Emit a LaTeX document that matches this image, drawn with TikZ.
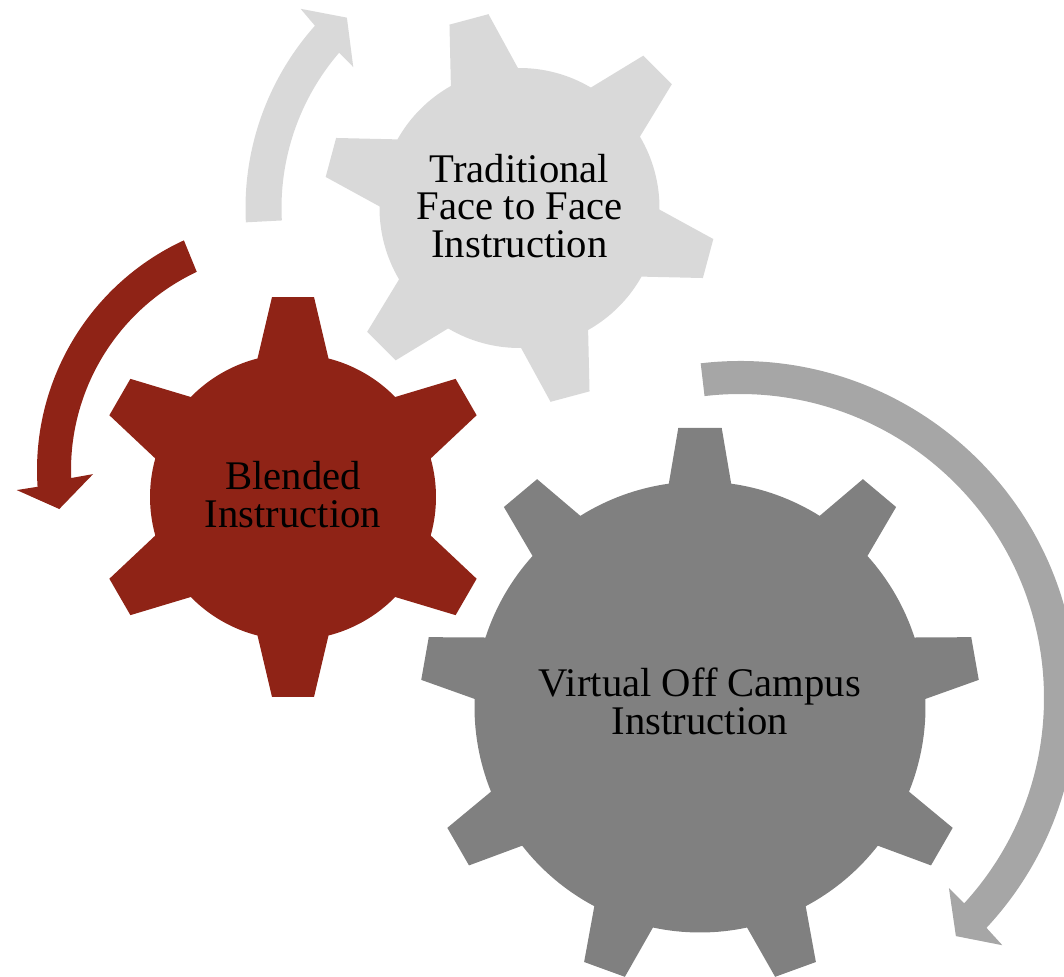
\documentclass[tikz,border=0pt]{standalone}
\usepackage{fontspec}
\setmainfont{Liberation Serif}

\definecolor{gearLight}{RGB}{217,217,217}
\definecolor{gearRed}{RGB}{143,35,22}
\definecolor{gearGray}{RGB}{128,128,128}
\definecolor{arrowGray}{RGB}{166,166,166}

\tikzset{every picture/.style={line width=0.75pt}}
\tikzset{gear label/.style={align=center,text=black,font=\fontsize{30.5}{28.4}\selectfont}}

\begin{document}
\begin{tikzpicture}[x=0.75pt,y=0.75pt,yscale=-1,xscale=1]
%set diagram left start at 0, and has height of 977
\clip (0,0) rectangle (1064,977);

%Shape: Circular Arrow [light]
\fill[gearLight, shift={(519.5,208)}] (-183:274) arc[start angle=-183, end angle=-138.3, radius=274] -- (-137.7:296) -- (-132.2:257) -- (-139.7:218) -- (-139.3:238) arc[start angle=-139.3, end angle=-183, radius=238] -- cycle ;
%Shape: Circular Arrow [red]
\fill[gearRed, shift={(290,470)}] (-114.8:253) arc[start angle=-114.8, end angle=-183.8, radius=253] -- (-184.2:274) -- (-189.6:234) -- (-181.2:197) -- (-182.1:219) arc[start angle=-182.1, end angle=-115.2, radius=219] -- cycle ;
%Shape: Circular Arrow [gray]
\fill[arrowGray, shift={(740,698)}] (-96.7:337) arc[start angle=-96.7, end angle=43, radius=337] -- (43.3:360.5) -- (47.8:321.4) -- (42.3:282.5) -- (42.5:304) arc[start angle=42.5, end angle=-96.7, radius=304] -- cycle ;

%Shape: Gear [light, 6 teeth]
\fill[gearLight, shift={(519.5,208)}] (-119.35:140) \foreach \a in {-105,-45,...,195} { -- (\a-5.9:196.3) -- (\a+5.9:196.3) -- (\a+14.35:140) arc[start angle=\a+14.35, end angle=\a+45.65, radius=140] } -- cycle ;
%Shape: Gear [red, 6 teeth]
\fill[gearRed, shift={(293,497)}] (-104.37:143) \foreach \a in {-90,-30,...,210} { -- (\a-6:201) -- (\a+6:201) -- (\a+14.37:143) arc[start angle=\a+14.37, end angle=\a+45.63, radius=143] } -- cycle ;
%Shape: Gear [gray, 9 teeth]
\fill[gearGray, shift={(700,707)}] (-97.95:225.5) \foreach \a in {-90,-50,...,230} { -- (\a-4.44:280.1) -- (\a+4.44:280.1) -- (\a+7.95:225.5) arc[start angle=\a+7.95, end angle=\a+32.05, radius=225.5] } -- cycle ;

% Text Node
\draw (519.5,206) node (traditional) [gear label] {Traditional\\Face to Face\\Instruction};
% Text Node
\draw (293,495) node (blended) [gear label] {Blended\\Instruction};
% Text Node
\draw (700,701) node (virtual) [gear label] {Virtual Off Campus\\Instruction};

\end{tikzpicture}
\end{document}
